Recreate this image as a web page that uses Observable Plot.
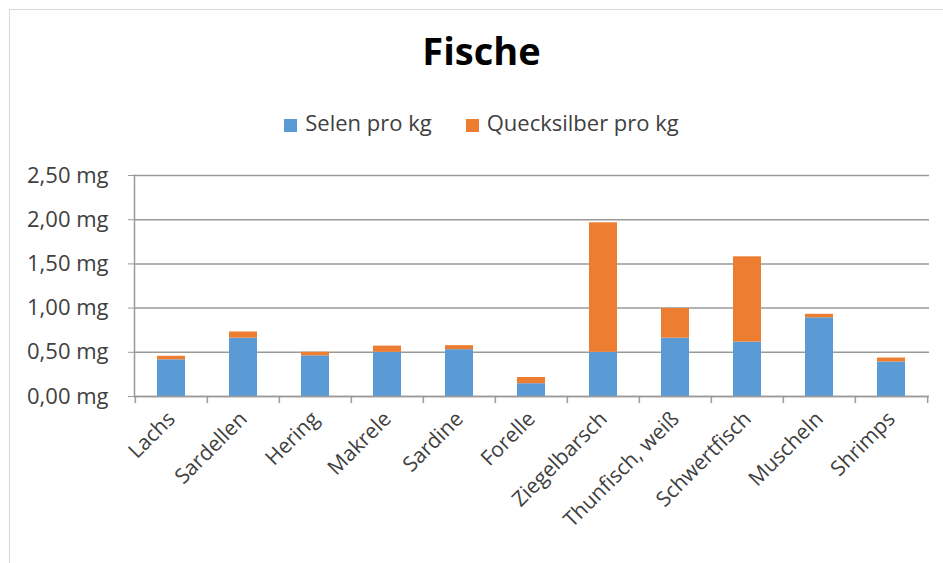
<!DOCTYPE html>
<html>
<head>
<meta charset="utf-8">
<script src="https://cdn.jsdelivr.net/npm/d3@7"></script>
<script src="https://cdn.jsdelivr.net/npm/@observablehq/plot@0.6"></script>
<style>
  html, body { margin: 0; padding: 0; background: #fff; }
  #wrap { position: relative; width: 943px; height: 563px; overflow: hidden; font-family: "Open Sans", sans-serif; }
  #border { position: absolute; left: 9px; top: 9px; width: 960px; height: 600px; border-left: 1.5px solid #d9d9d9; border-top: 1.5px solid #d9d9d9; }
  #title { position: absolute; left: 0; width: 963px; top: 24px; text-align: center; font-weight: 700; font-size: 38px; color: #000; line-height: 52px; }
  #legend { position: absolute; left: 0; width: 963px; top: 108px; text-align: center; font-size: 22px; color: #404040; line-height: 28px; }
  .item { display: inline-block; margin: 0 17px; }
  .sw { display: inline-block; width: 13px; height: 13px; margin-right: 8px; vertical-align: -1px; }
  #chart { position: absolute; left: 0; top: 150px; }
</style>
</head>
<body>
<div id="wrap">
  <div id="border"></div>
  <div id="title">Fische</div>
  <div id="legend"></div>
  <div id="chart"></div>
</div>
<script>
const categories = ["Lachs", "Sardellen", "Hering", "Makrele", "Sardine", "Forelle", "Ziegelbarsch", "Thunfisch, weiß", "Schwertfisch", "Muscheln", "Shrimps"];
const series = ["Selen pro kg", "Quecksilber pro kg"];
const selen = [0.415, 0.66, 0.46, 0.50, 0.53, 0.145, 0.50, 0.66, 0.615, 0.89, 0.39];
const quecksilber = [0.04, 0.07, 0.04, 0.07, 0.045, 0.07, 1.465, 0.335, 0.965, 0.04, 0.045];
const yTicks = [0, 0.5, 1.0, 1.5, 2.0, 2.5];
const colors = ["#5B9BD5", "#ED7D31"];

const data = [];
categories.forEach((c, i) => {
  data.push({fisch: c, serie: series[0], wert: selen[i]});
  data.push({fisch: c, serie: series[1], wert: quecksilber[i]});
});

// legend
const legend = document.getElementById("legend");
series.forEach((s, i) => {
  const it = document.createElement("span");
  it.className = "item";
  const sw = document.createElement("span");
  sw.className = "sw";
  sw.style.background = colors[i];
  it.appendChild(sw);
  it.appendChild(document.createTextNode(s));
  legend.appendChild(it);
});

const W = 943, H = 413, mL = 134, mR = 14, mT = 25, mB = 167;
const step = (W - mL - mR) / categories.length;
const fmt = d => d.toFixed(2).replace(".", ",") + " mg";
const axisColor = "#9a9a9a";

const chart = Plot.plot({
  width: W,
  height: H,
  marginLeft: mL,
  marginRight: mR,
  marginTop: mT,
  marginBottom: mB,
  style: {fontFamily: "'Open Sans', sans-serif", fontSize: "22px", color: "#404040", background: "transparent"},
  x: {domain: categories, paddingInner: 0.61, paddingOuter: 0.305, label: null},
  y: {domain: [0, 2.5], label: null},
  color: {domain: series, range: colors},
  marks: [
    Plot.gridY(yTicks, {stroke: axisColor, strokeOpacity: 1, strokeWidth: 1.5}),
    Plot.barY(data, Plot.stackY({x: "fisch", y: "wert", fill: "serie", order: series})),
    Plot.ruleY([0], {stroke: axisColor, strokeWidth: 1.5}),
    Plot.frame({anchor: "left", stroke: axisColor, strokeWidth: 1.5}),
    Plot.ruleX(categories, {x: d => d, dx: -step / 2, y1: 0, y2: 0, insetBottom: -7, stroke: axisColor, strokeWidth: 1.5}),
    Plot.ruleX([categories[categories.length - 1]], {x: d => d, dx: step / 2, y1: 0, y2: 0, insetBottom: -7, stroke: axisColor, strokeWidth: 1.5}),
    Plot.axisY(yTicks, {tickFormat: fmt, tickSize: 6, tickPadding: 20, stroke: axisColor, fill: "#404040", label: null}),
    Plot.axisX({tickRotate: -45, tickSize: 0, tickPadding: 19, fontSize: 21, fill: "#404040", label: null})
  ]
});
document.getElementById("chart").appendChild(chart);
</script>
</body>
</html>
